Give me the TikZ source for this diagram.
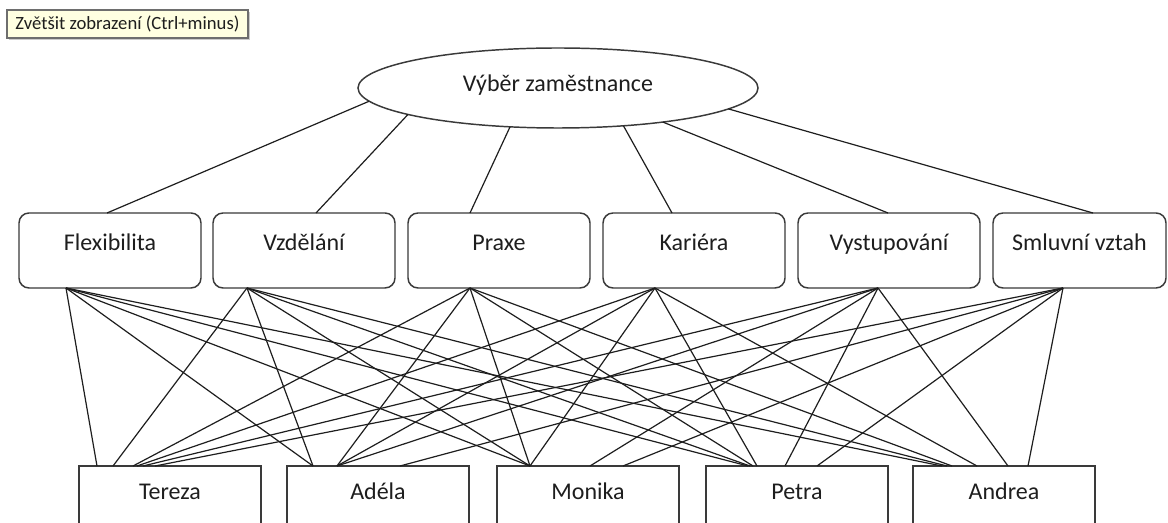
\documentclass[tikz,border=0pt]{standalone}
\usepackage{fontspec}
\setmainfont{Carlito}
\usetikzlibrary{calc,shapes.geometric,shadows}
\definecolor{edge}{HTML}{3A3A3A}
\definecolor{ink}{HTML}{1E1E1E}
\definecolor{tipfill}{HTML}{FFFFE1}
\definecolor{tipedge}{HTML}{6E6E6E}
\begin{document}
\begin{tikzpicture}[x=0.75pt,y=-0.75pt,
  every node/.style={text=ink, font=\fontsize{18}{20}\selectfont},
  crit/.style={draw=edge, line width=1.1pt, rounded corners=7.5pt, minimum width=136.5pt, minimum height=56.25pt, inner sep=0pt, outer sep=0pt, text height=0pt, text depth=0pt},
  lastcrit/.style={crit, minimum width=129.75pt},
  person/.style={draw=edge, line width=1.1pt, minimum width=136.5pt, minimum height=51pt, inner sep=0pt, outer sep=0pt, text height=0pt, text depth=0pt},
  goal/.style={ellipse, draw=edge, line width=1.1pt, minimum width=300pt, minimum height=60pt, inner sep=0pt, outer sep=0pt, text height=6pt, text depth=0pt},
  tip/.style={draw=tipedge, fill=tipfill, line width=0.8pt, minimum width=180.75pt, minimum height=21pt, inner sep=0pt, font=\fontsize{14}{16}\selectfont, text height=9pt, text depth=0pt, drop shadow={shadow xshift=1.5pt, shadow yshift=-1.5pt, fill=black!40, opacity=0.5}},
  conn/.style={draw=ink, line width=0.9pt}]
\useasboundingbox (0,0) rectangle (1168,523);
\clip (0,0) rectangle (1168,523);
\fill[white] (0,0) rectangle (1168,523);

% tooltip
\node[tip] (tooltip) at (127.5,24) {Zvětšit zobrazení (Ctrl+minus)};

% goal
\node[goal] (ell) at (558,88) {Výběr zaměstnance};

% criteria
\node[crit] (flex)    at (110,250.5) {Flexibilita};
\node[crit] (vzd)     at (304,250.5) {Vzdělání};
\node[crit] (praxe)   at (499,250.5) {Praxe};
\node[crit] (kariera) at (694,250.5) {Kariéra};
\node[crit] (vyst)    at (889,250.5) {Vystupování};
\node[lastcrit] (smluv) at (1079.5,250.5) {Smluvní vztah};

% alternatives
\node[person] (tereza) at (170,500) {Tereza};
\node[person] (adela)  at (378,500) {Adéla};
\node[person] (monika) at (588,500) {Monika};
\node[person] (petra)  at (797,500) {Petra};
\node[person] (andrea) at (1004,500) {Andrea};

% goal -> criteria
\draw[conn] (ell.184.8) -- ($(flex.north west)+(88,0)$);
\draw[conn] (ell.190.7) -- ($(vzd.north west)+(103,0)$);
\draw[conn] (ell.219)   -- ($(praxe.north west)+(62,0)$);
\draw[conn] (ell.330.4) -- ($(kariera.north west)+(69,0)$);
\draw[conn] (ell.342.4) -- ($(vyst.north west)+(90,0)$);
\draw[conn] (ell.353)   -- ($(smluv.north west)+(100,0)$);

% criteria -> alternatives
\foreach \c/\b/\ot/\oa/\om/\op/\on in {
  flex/47/18/26/33/42/29,
  vzd/34/34/26/33/44/34,
  praxe/62/54/50/33/47/39,
  kariera/52/58/50/33/51/64,
  vyst/80/64/50/93/79/95,
  smluv/70/76/113/126/111/115}{
  \draw[conn] ($(\c.south west)+(\b,0)$) -- ($(tereza.north west)+(\ot,0)$);
  \draw[conn] ($(\c.south west)+(\b,0)$) -- ($(adela.north west)+(\oa,0)$);
  \draw[conn] ($(\c.south west)+(\b,0)$) -- ($(monika.north west)+(\om,0)$);
  \draw[conn] ($(\c.south west)+(\b,0)$) -- ($(petra.north west)+(\op,0)$);
  \draw[conn] ($(\c.south west)+(\b,0)$) -- ($(andrea.north west)+(\on,0)$);
}
\end{tikzpicture}
\end{document}
